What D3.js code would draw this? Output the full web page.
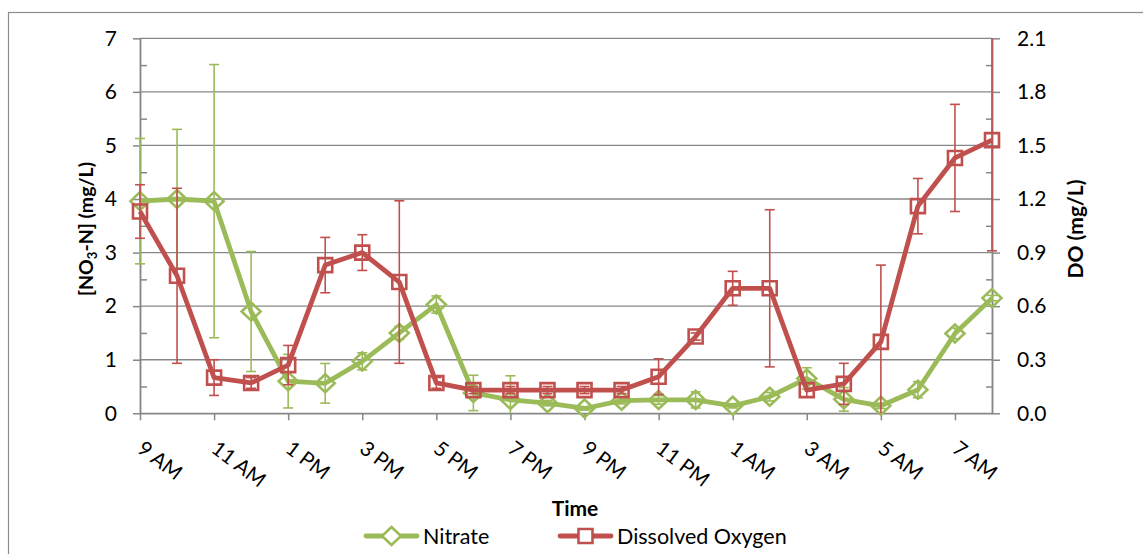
<!DOCTYPE html>
<html>
<head>
<meta charset="utf-8">
<script src="https://cdn.jsdelivr.net/npm/d3@7"></script>
<style>
  body { margin: 0; background: #fff; }
  svg { font-family: Lato, "Open Sans", sans-serif; }
</style>
</head>
<body>
<svg id="chart" width="1143" height="554"></svg>
<script>
const hours = ["9 AM","10 AM","11 AM","12 PM","1 PM","2 PM","3 PM","4 PM","5 PM","6 PM","7 PM","8 PM",
  "9 PM","10 PM","11 PM","12 AM","1 AM","2 AM","3 AM","4 AM","5 AM","6 AM","7 AM","8 AM"];
const nitrate = [3.96, 4.0, 3.96, 1.9, 0.6, 0.56, 0.97, 1.5, 2.03, 0.38, 0.25, 0.19,
  0.09, 0.235, 0.25, 0.25, 0.14, 0.31, 0.65, 0.26, 0.14, 0.44, 1.49, 2.15];
const nitrateErr = [1.17, 1.3, 2.55, 1.12, 0.5, 0.37, 0.16, 0.12, 0.16, 0.33, 0.45, 0.05,
  0.03, 0.06, 0.08, 0.15, 0.04, 0.08, 0.2, 0.22, 0.05, 0.15, 0.1, 0.05];
const dOxygen = [1.13, 0.77, 0.2, 0.17, 0.27, 0.83, 0.9, 0.735, 0.17, 0.13, 0.13, 0.13,
  0.13, 0.13, 0.205, 0.43, 0.7, 0.7, 0.13, 0.165, 0.4, 1.16, 1.43, 1.53];
const dOxygenErr = [0.15, 0.49, 0.1, 0.03, 0.11, 0.155, 0.1, 0.455, 0.03, 0.02, 0.02, 0.02,
  0.02, 0.02, 0.1, 0.02, 0.095, 0.44, 0.04, 0.115, 0.43, 0.155, 0.3, 0.62];
const leftTicks = [0, 1, 2, 3, 4, 5, 6, 7];
const rightTicks = [0, 0.3, 0.6, 0.9, 1.2, 1.5, 1.8, 2.1];
const labelHours = hours.filter((d, i) => i % 2 === 0 && i < 23);

const svg = d3.select("#chart");
const green = "#9bbb59", red = "#c0504d", gridGray = "#878787";
const plotLeft = 140, plotRight = 992, plotTop = 38.3, plotBottom = 413.3;

// chart frame
svg.append("rect")
  .attr("x", 8.5).attr("y", 12.5)
  .attr("width", 1160).attr("height", 560)
  .attr("fill", "none").attr("stroke", "#8c8c8c").attr("stroke-width", 1.2);

const x = d3.scalePoint().domain(hours).range([plotLeft, plotRight]);
const y = d3.scaleLinear().domain([0, 7]).range([plotBottom, plotTop]);
const y2 = d3.scaleLinear().domain([0, 2.1]).range([plotBottom, plotTop]);

// gridlines
svg.append("g")
  .selectAll("line")
  .data(leftTicks)
  .join("line")
  .attr("x1", plotLeft).attr("x2", plotRight)
  .attr("y1", d => y(d)).attr("y2", d => y(d))
  .attr("stroke", gridGray).attr("stroke-width", 1.3);

function styleAxis(g) {
  g.select(".domain").attr("stroke", gridGray).attr("stroke-width", 1.5);
  g.selectAll(".tick line").attr("stroke", gridGray).attr("stroke-width", 1.5);
  g.selectAll(".tick text").attr("fill", "#000").attr("font-size", 21)
    .attr("font-family", "Lato, sans-serif");
}

// left axis: major ticks outside, minor inside
svg.append("g")
  .attr("transform", `translate(${plotLeft},0)`)
  .call(d3.axisLeft(y).tickValues(leftTicks).tickSize(7).tickSizeOuter(0).tickPadding(16)
    .tickFormat(d3.format("d")))
  .call(styleAxis);
svg.append("g")
  .attr("transform", `translate(${plotLeft},0)`)
  .call(d3.axisRight(y).tickValues(d3.range(0.5, 7, 1)).tickSize(7).tickSizeOuter(0).tickFormat(""))
  .call(styleAxis);

// right axis
svg.append("g")
  .attr("transform", `translate(${plotRight},0)`)
  .call(d3.axisRight(y2).tickValues(rightTicks).tickSize(8).tickSizeOuter(0).tickPadding(17)
    .tickFormat(d3.format(".1f")))
  .call(styleAxis);
svg.append("g")
  .attr("transform", `translate(${plotRight},0)`)
  .call(d3.axisLeft(y2).tickValues(d3.range(0.15, 2.1, 0.3)).tickSize(6).tickSizeOuter(0).tickFormat(""))
  .call(styleAxis);

// x axis
svg.append("g")
  .attr("transform", `translate(0,${plotBottom})`)
  .call(d3.axisBottom(x).tickValues(labelHours).tickSize(7).tickSizeOuter(0).tickFormat(""))
  .call(styleAxis);

svg.append("g")
  .selectAll("text")
  .data(labelHours)
  .join("text")
  .attr("transform", d => `translate(${x(d) - 4},${plotBottom + 38}) rotate(37)`)
  .attr("font-size", 20.5)
  .attr("fill", "#000")
  .text(d => d);

// axis titles
svg.append("text")
  .attr("transform", `translate(93,229) rotate(-90)`)
  .attr("text-anchor", "middle")
  .attr("font-size", 19.5).attr("font-weight", "bold")
  .call(t => {
    t.append("tspan").text("[NO");
    t.append("tspan").attr("font-size", 13).attr("dy", 4).text("3");
    t.append("tspan").attr("dy", -4).text("-N] (mg/L)");
  });

svg.append("text")
  .attr("transform", `translate(1083,229) rotate(-90)`)
  .attr("text-anchor", "middle")
  .attr("font-size", 21).attr("font-weight", "bold")
  .text("DO (mg/L)");

svg.append("text")
  .attr("x", 575).attr("y", 516)
  .attr("text-anchor", "middle")
  .attr("font-size", 21).attr("font-weight", "bold")
  .text("Time");

// series
const nitrateData = hours.map((h, i) => ({ h, v: nitrate[i], e: nitrateErr[i] }));
const doData = hours.map((h, i) => ({ h, v: dOxygen[i], e: dOxygenErr[i] }));

function drawErrors(data, scale, color) {
  const [lo, hi] = scale.domain();
  const g = svg.append("g").attr("stroke", color).attr("stroke-width", 1.6);
  data.forEach(d => {
    const a = Math.max(lo, d.v - d.e), b = Math.min(hi, d.v + d.e);
    const cx = x(d.h);
    g.append("line").attr("x1", cx).attr("x2", cx).attr("y1", scale(a)).attr("y2", scale(b));
    if (d.v + d.e <= hi) g.append("line").attr("x1", cx - 5).attr("x2", cx + 5).attr("y1", scale(b)).attr("y2", scale(b));
    if (d.v - d.e >= lo) g.append("line").attr("x1", cx - 5).attr("x2", cx + 5).attr("y1", scale(a)).attr("y2", scale(a));
  });
}

function drawSeries(data, scale, color, symbol) {
  svg.append("path")
    .datum(data)
    .attr("fill", "none")
    .attr("stroke", color)
    .attr("stroke-width", 4.8)
    .attr("stroke-linejoin", "round")
    .attr("d", d3.line().x(d => x(d.h)).y(d => scale(d.v)));
  svg.append("g")
    .selectAll("path")
    .data(data)
    .join("path")
    .attr("transform", d => `translate(${x(d.h)},${scale(d.v)})`)
    .attr("d", symbol)
    .attr("fill", "none")
    .attr("stroke", color)
    .attr("stroke-width", 2.6);
}

const diamond = "M0,-9L9.5,0L0,9L-9.5,0Z";
const square = "M-7,-7H7V7H-7Z";

drawErrors(nitrateData, y, green);
drawSeries(nitrateData, y, green, diamond);
drawErrors(doData, y2, red);
drawSeries(doData, y2, red, square);

// legend
const legend = [
  { name: "Nitrate", color: green, symbol: diamond, x0: 366 },
  { name: "Dissolved Oxygen", color: red, symbol: square, x0: 560 }
];
const lg = svg.append("g").selectAll("g").data(legend).join("g")
  .attr("transform", d => `translate(${d.x0},536)`);
lg.append("line").attr("x1", 0).attr("x2", 51)
  .attr("stroke", d => d.color).attr("stroke-width", 4.8).attr("stroke-linecap", "round");
lg.append("path").attr("transform", "translate(25.5,0)")
  .attr("d", d => d.symbol).attr("fill", "#fff")
  .attr("stroke", d => d.color).attr("stroke-width", 2.6);
lg.append("text").attr("x", 57).attr("y", 7.5)
  .attr("font-size", 21.5).text(d => d.name);
</script>
</body>
</html>
